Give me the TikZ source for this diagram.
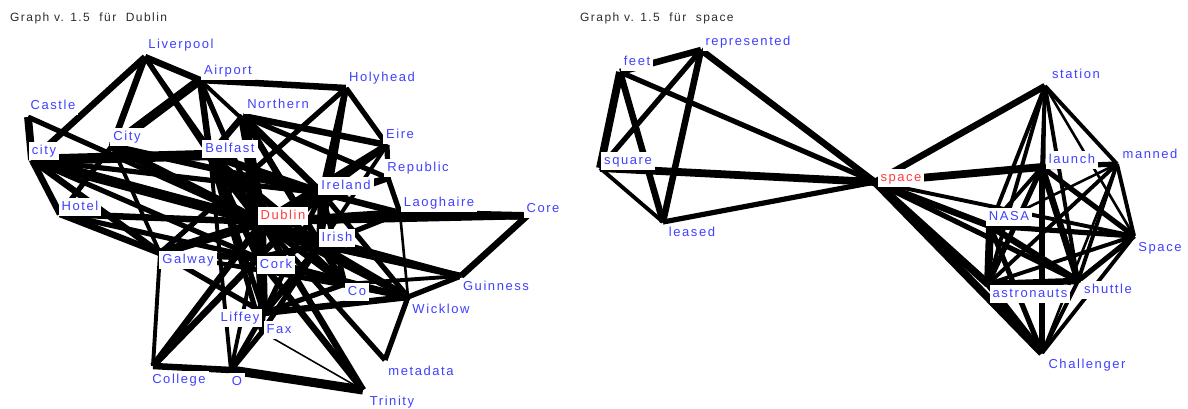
\documentclass[tikz,border=0pt]{standalone}
\usepackage{fontspec}
\setmainfont{Liberation Sans}[LetterSpace=12]
\definecolor{nb}{RGB}{64,64,255}
\definecolor{nr}{RGB}{255,60,60}
\definecolor{tg}{RGB}{45,45,45}
\begin{document}
\begin{tikzpicture}[x=1pt,y=-1pt,
  lbl/.style={fill=white,text=nb,font=\fontsize{13}{13}\selectfont,inner xsep=3pt,inner ysep=3pt,text height=9.5pt,text depth=3pt},
  hub/.style={lbl,text=nr},
  ttl/.style={text=tg,font=\fontsize{12}{12}\selectfont,anchor=west,inner sep=0pt}]
\useasboundingbox (0,0) rectangle (1188,408);
\fill[white] (0,0) rectangle (1188,408);
\node[ttl] (t1) at (10,18) {Graph v. 1.5\ \ für\ \ Dublin};
\node[ttl] (t2) at (580,18) {Graph v. 1.5\ \ für\ \ space};
% left anchors
\coordinate (Liv) at (145,57);
\coordinate (Air) at (200,80);
\coordinate (Hol) at (346,88);
\coordinate (Cas) at (28,117);
\coordinate (cty) at (32,160);
\coordinate (Cty) at (112,146);
\coordinate (Bel) at (210,155);
\coordinate (Nor) at (243,116);
\coordinate (Eir) at (387,145);
\coordinate (Rep) at (388,178);
\coordinate (Ire) at (322,193);
\coordinate (Lao) at (400,213);
\coordinate (Cor) at (527,216);
\coordinate (Dub) at (262,222);
\coordinate (Iri) at (320,245);
\coordinate (Hot) at (60,214);
\coordinate (Gal) at (160,253);
\coordinate (Crk) at (258,258);
\coordinate (Co) at (345,284);
\coordinate (Gui) at (461,276);
\coordinate (Wic) at (408,297);
\coordinate (Lif) at (264,313);
\coordinate (Fax) at (262,332);
\coordinate (Col) at (153,366);
\coordinate (O) at (231,370);
\coordinate (Met) at (385,360);
\coordinate (Tri) at (363,390);
% right anchors
\coordinate (feet) at (620,72);
\coordinate (rep) at (701,50);
\coordinate (squ) at (600,168);
\coordinate (lea) at (663,222);
\coordinate (spc) at (875,182);
\coordinate (sta) at (1045,86);
\coordinate (lau) at (1042,167);
\coordinate (man) at (1117,164);
\coordinate (NAS) at (990,226);
\coordinate (Spa) at (1134,236);
\coordinate (ast) at (988,284);
\coordinate (shu) at (1078,281);
\coordinate (Cha) at (1042,353);
% edges
\foreach \a/\b/\w in {Liv/cty/5, Liv/Cty/5, Liv/Air/5, Liv/Bel/4, Liv/Dub/3,
 Air/Cty/7, Air/Bel/5, Air/Hol/5, Air/Dub/4, Air/Ire/3,
 Cas/cty/6, Cas/Dub/4,
 cty/Bel/8, cty/Dub/8, cty/Hot/5, cty/Gal/5, cty/Ire/4, cty/Crk/4,
 Cty/Dub/6, Cty/Gal/3, Cty/Hot/4, Cty/Ire/5,
 Hot/Gal/5, Hot/Dub/5, Hot/Crk/4,
 Hol/Ire/5, Hol/Eir/4, Hol/Gal/4, Hol/Iri/4,
 Nor/Eir/5, Nor/Bel/5, Nor/Dub/8, Nor/Ire/5, Nor/Rep/4, Nor/Crk/5, Nor/Iri/5, Nor/Lif/4, Nor/Co/4,
 Bel/Dub/8, Bel/Ire/6, Bel/Iri/5, Bel/Crk/5, Bel/Lif/4, Bel/O/3, Bel/Co/4, Bel/Fax/4,
 Eir/Ire/5, Eir/Dub/5, Eir/Rep/4, Eir/Iri/3,
 Rep/Lao/4, Rep/Dub/5, Rep/Ire/4,
 Ire/Dub/8, Ire/Iri/6, Ire/Crk/5, Ire/Lao/5, Ire/Lif/4, Ire/Co/4, Ire/Wic/4,
 Lao/Cor/6, Lao/Dub/6, Lao/Wic/2, Lao/Iri/4,
 Cor/Gui/5, Cor/Dub/5,
 Dub/Iri/8, Dub/Crk/8, Dub/Gal/7, Dub/Lif/6, Dub/Fax/5, Dub/Gui/4, Dub/Wic/5, Dub/Co/5, Dub/Met/4, Dub/Tri/5, Dub/O/3, Dub/Col/5,
 Iri/Crk/5, Iri/Co/5, Iri/Gui/5, Iri/Wic/5, Iri/Lif/5, Iri/Fax/4,
 Gal/Crk/5, Gal/Lif/4, Gal/Col/3, Gal/Co/3, Gal/Wic/3,
 Crk/Col/5, Crk/Lif/5, Crk/Fax/4, Crk/Co/5, Crk/Tri/5, Crk/Wic/4,
 Co/Wic/5, Co/Lif/4, Co/Gui/3, Gui/Wic/4,
 Lif/O/4, Lif/Wic/5, Lif/Fax/3,
 Fax/O/4, Fax/Tri/1.2, Col/O/5, O/Tri/7, Met/Wic/4,
 feet/rep/5, feet/squ/6, feet/lea/5, feet/spc/4,
 rep/squ/4, rep/lea/5, rep/spc/5,
 squ/spc/6, squ/lea/3, lea/spc/4,
 spc/sta/5, spc/lau/6, spc/NAS/5, spc/ast/6, spc/shu/4, spc/Cha/6, spc/Spa/3,
 sta/lau/3, sta/man/3, sta/NAS/3, sta/Spa/2, sta/ast/3, sta/shu/3, sta/Cha/2,
 lau/man/4, lau/NAS/3, lau/Spa/4, lau/ast/4, lau/shu/5, lau/Cha/4,
 man/NAS/2, man/Spa/3, man/ast/3, man/shu/3, man/Cha/2,
 NAS/Spa/4, NAS/ast/6, NAS/shu/5, NAS/Cha/4,
 Spa/ast/3, Spa/shu/4, Spa/Cha/3,
 ast/shu/5, ast/Cha/5, shu/Cha/3}
 \draw[line width={1.3pt*\w}] (\a) -- (\b);
% left labels
\node[lbl] (tLiv) at (181,45) {Liverpool};
\node[lbl] (tAir) at (228,71) {Airport};
\node[lbl] (tHol) at (382,78) {Holyhead};
\node[lbl] (tCas) at (53,106) {Castle};
\node[lbl] (tcty) at (44,151) {city};
\node[lbl] (tCty) at (127,137) {City};
\node[lbl] (tBel) at (230,149) {Belfast};
\node[lbl] (tNor) at (278,105) {Northern};
\node[lbl] (tEir) at (400,135) {Eire};
\node[lbl] (tRep) at (418,168) {Republic};
\node[lbl] (tIre) at (346,186) {Ireland};
\node[lbl] (tLao) at (439,203) {Laoghaire};
\node[lbl] (tCor) at (543,209) {Core};
\node[hub] (tDub) at (283,216) {Dublin};
\node[lbl] (tIri) at (337,238) {Irish};
\node[lbl] (tHot) at (80,207) {Hotel};
\node[lbl] (tGal) at (188,260) {Galway};
\node[lbl] (tCrk) at (276,265) {Cork};
\node[lbl] (tCo) at (357,292) {Co};
\node[lbl] (tGui) at (496,287) {Guinness};
\node[lbl] (tWic) at (441,310) {Wicklow};
\node[lbl] (tLif) at (240,318) {Liffey};
\node[lbl] (tFax) at (279,330) {Fax};
\node[lbl] (tCol) at (179,380) {College};
\node[lbl] (tO) at (237,382) {O};
\node[lbl] (tMet) at (421,372) {metadata};
\node[lbl] (tTri) at (392,402) {Trinity};
% right labels
\node[lbl] (tfeet) at (637,62) {feet};
\node[lbl] (trep) at (748,42) {represented};
\node[lbl] (tsqu) at (628,161) {square};
\node[lbl] (tlea) at (692,233) {leased};
\node[hub] (tspc) at (901,178) {space};
\node[lbl] (tsta) at (1076,75) {station};
\node[lbl] (tlau) at (1072,160) {launch};
\node[lbl] (tman) at (1150,155) {manned};
\node[lbl] (tNAS) at (1009,217) {NASA};
\node[lbl] (tSpa) at (1160,248) {Space};
\node[lbl] (tast) at (1030,294) {astronauts};
\node[lbl] (tshu) at (1108,290) {shuttle};
\node[lbl] (tCha) at (1087,365) {Challenger};
\end{tikzpicture}
\end{document}
